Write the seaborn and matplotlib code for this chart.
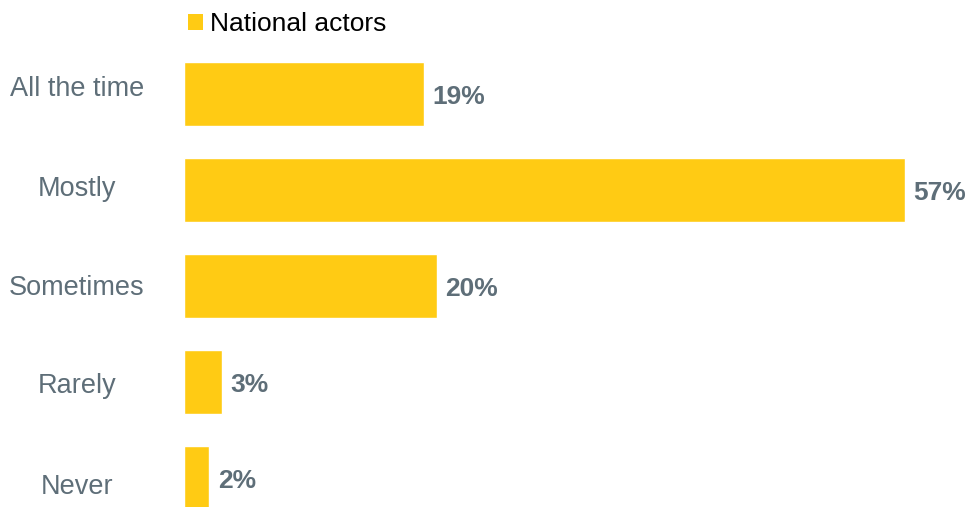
import matplotlib
matplotlib.use("Agg")
import matplotlib.pyplot as plt
import seaborn as sns
import pandas as pd
from matplotlib.patches import Patch

categories = ["All the time", "Mostly", "Sometimes", "Rarely", "Never"]
values = [19, 57, 20, 3, 2]
series_name = "National actors"

BAR_COLOR = "#FFCB14"
LABEL_COLOR = "#5E6E78"

sns.set_theme(style="white")
plt.rcParams["font.family"] = ["Liberation Sans", "DejaVu Sans"]

df = pd.DataFrame({"category": categories, "value": values, "series": series_name})

W, H = 968, 507
fig = plt.figure(figsize=(W / 100, H / 100), dpi=100)
left_px = 184
ax = fig.add_axes([left_px / W, 0, 1 - left_px / W, 1])

sns.barplot(data=df, x="value", y="category", hue="series", orient="h",
            palette=[BAR_COLOR], saturation=1, width=0.667, dodge=False,
            legend=False, ax=ax)

px_per_unit = 721 / 57
ax.set_xlim(0, (W - left_px) / px_per_unit)
ax.set_ylim(4 + (507 - 478) / 96, -94 / 96)

for c in ax.containers:
    texts = ax.bar_label(c, labels=[f"{v}%" for v in values], padding=6,
                         fontsize=19, fontweight="bold", color=LABEL_COLOR)
    for t in texts:
        t.xyann = (6, -2.5)

for s in ax.spines.values():
    s.set_visible(False)
ax.set_xticks([])
ax.set_xlabel("")
ax.set_ylabel("")
# category label placement (slightly spread relative to bars, as in the reference)
label_shift = [-0.08, -0.04, -0.01, 0.01, 0.065]
ax.set_yticks([i + d for i, d in enumerate(label_shift)])
ax.set_yticklabels(categories)
ax.tick_params(axis="y", length=0, pad=77, labelsize=19.5, labelcolor=LABEL_COLOR)
for t in ax.get_yticklabels():
    t.set_horizontalalignment("center")

fig.legend(handles=[Patch(facecolor=BAR_COLOR, edgecolor="none", label=series_name)],
           loc="center left", bbox_to_anchor=(188 / W, 1 - 24 / H),
           frameon=False, fontsize=19, handlelength=0.55, handleheight=0.55,
           handletextpad=0.27, borderpad=0, borderaxespad=0, labelcolor="black")

fig.savefig("out.png", dpi=100)
